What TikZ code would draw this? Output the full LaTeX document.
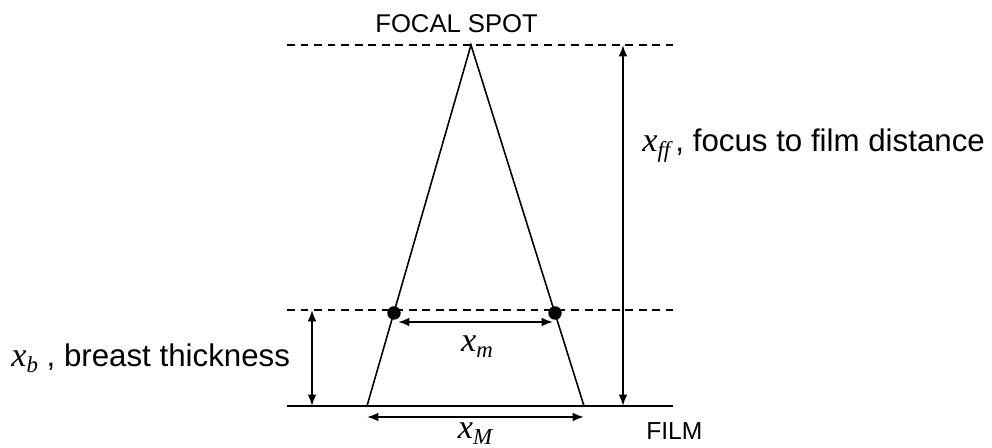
\documentclass[tikz,border=0pt]{standalone}
\usepackage{fontspec}
\setmainfont{Liberation Sans}
\newfontfamily\timesfont{Liberation Serif}
\usetikzlibrary{arrows.meta, positioning}
\tikzset{
	ray/.style={line width=0.9pt}
}
\tikzset{
	guide/.style={line width=0.9pt, dash pattern=on 4.5pt off 3.2pt}
}
\tikzset{
	dimline/.style={line width=1.1pt, {Latex[length=6.5pt,width=5pt]}-{Latex[length=6.5pt,width=5pt]}},
	spot/.style={circle, fill, inner sep=0pt, minimum size=0.27cm},
	captext/.style={font=\fontsize{14.6}{17}\selectfont, inner sep=0pt, anchor=base west},
	labeltext/.style={font=\fontsize{17.8}{20}\selectfont, inner sep=0pt, anchor=base west}
}
\newcommand{\sym}[2]{{\timesfont\itshape\fontsize{19.5}{22}\selectfont #1\raisebox{-0.35ex}{\fontsize{13}{15}\selectfont #2}}}

\begin{document}
\begin{tikzpicture}[x=0.02cm, y=-0.02cm]
      \useasboundingbox (0,0) rectangle (992,448);
      % reference lines
      \coordinate (topL) at (287,45);
      \coordinate (topR) at (673,45);
      \coordinate (midL) at (287,310);
      \coordinate (midR) at (673,310);
      \coordinate (filmL) at (287,406);
      \coordinate (filmR) at (673,406);
      \draw[guide] (topL) -- (topR);
      \draw[guide] (midL) -- (midR);
      \draw[ray] (filmL) -- (filmR);
      % beam
      \coordinate (focus) at (471,45);
      \coordinate (footL) at (367,406);
      \coordinate (footR) at (584,406);
      \draw[ray] (footL) -- (focus) -- (footR);
      \node[spot] (dotL) at (394,313) {};
      \node[spot] (dotR) at (555,313) {};
      % dimensions
      \coordinate (mL) at (398,322);
      \coordinate (mR) at (553,322);
      \coordinate (bigL) at (367,417);
      \coordinate (bigR) at (584,417);
      \coordinate (thkT) at (312,310);
      \coordinate (thkB) at (312,406);
      \coordinate (ffT) at (623,45);
      \coordinate (ffB) at (623,406);
      \draw[dimline] (mL) -- (mR);
      \draw[dimline] (bigL) -- (bigR);
      \draw[dimline] (thkT) -- (thkB);
      \draw[dimline] (ffT) -- (ffB);
      % labels
      \node[captext] (spotlbl) at (375,33) {FOCAL SPOT};
      \node[captext, font=\fontsize{14}{16}\selectfont] (filmlbl) at (646,440) {FILM};
      \node[labeltext, anchor=base] (xmlbl) at (477,352) {\sym{x}{m}};
      \node[labeltext, anchor=base] (xMlbl) at (475,439) {\sym{x}{M}};
      \node[labeltext] (fflbl) at (642,152) {\sym{x}{ff}\,, focus to film distance};
      \node[labeltext] (blbl) at (11,367) {\sym{x}{b} , breast thickness};
    \end{tikzpicture}
\end{document}
